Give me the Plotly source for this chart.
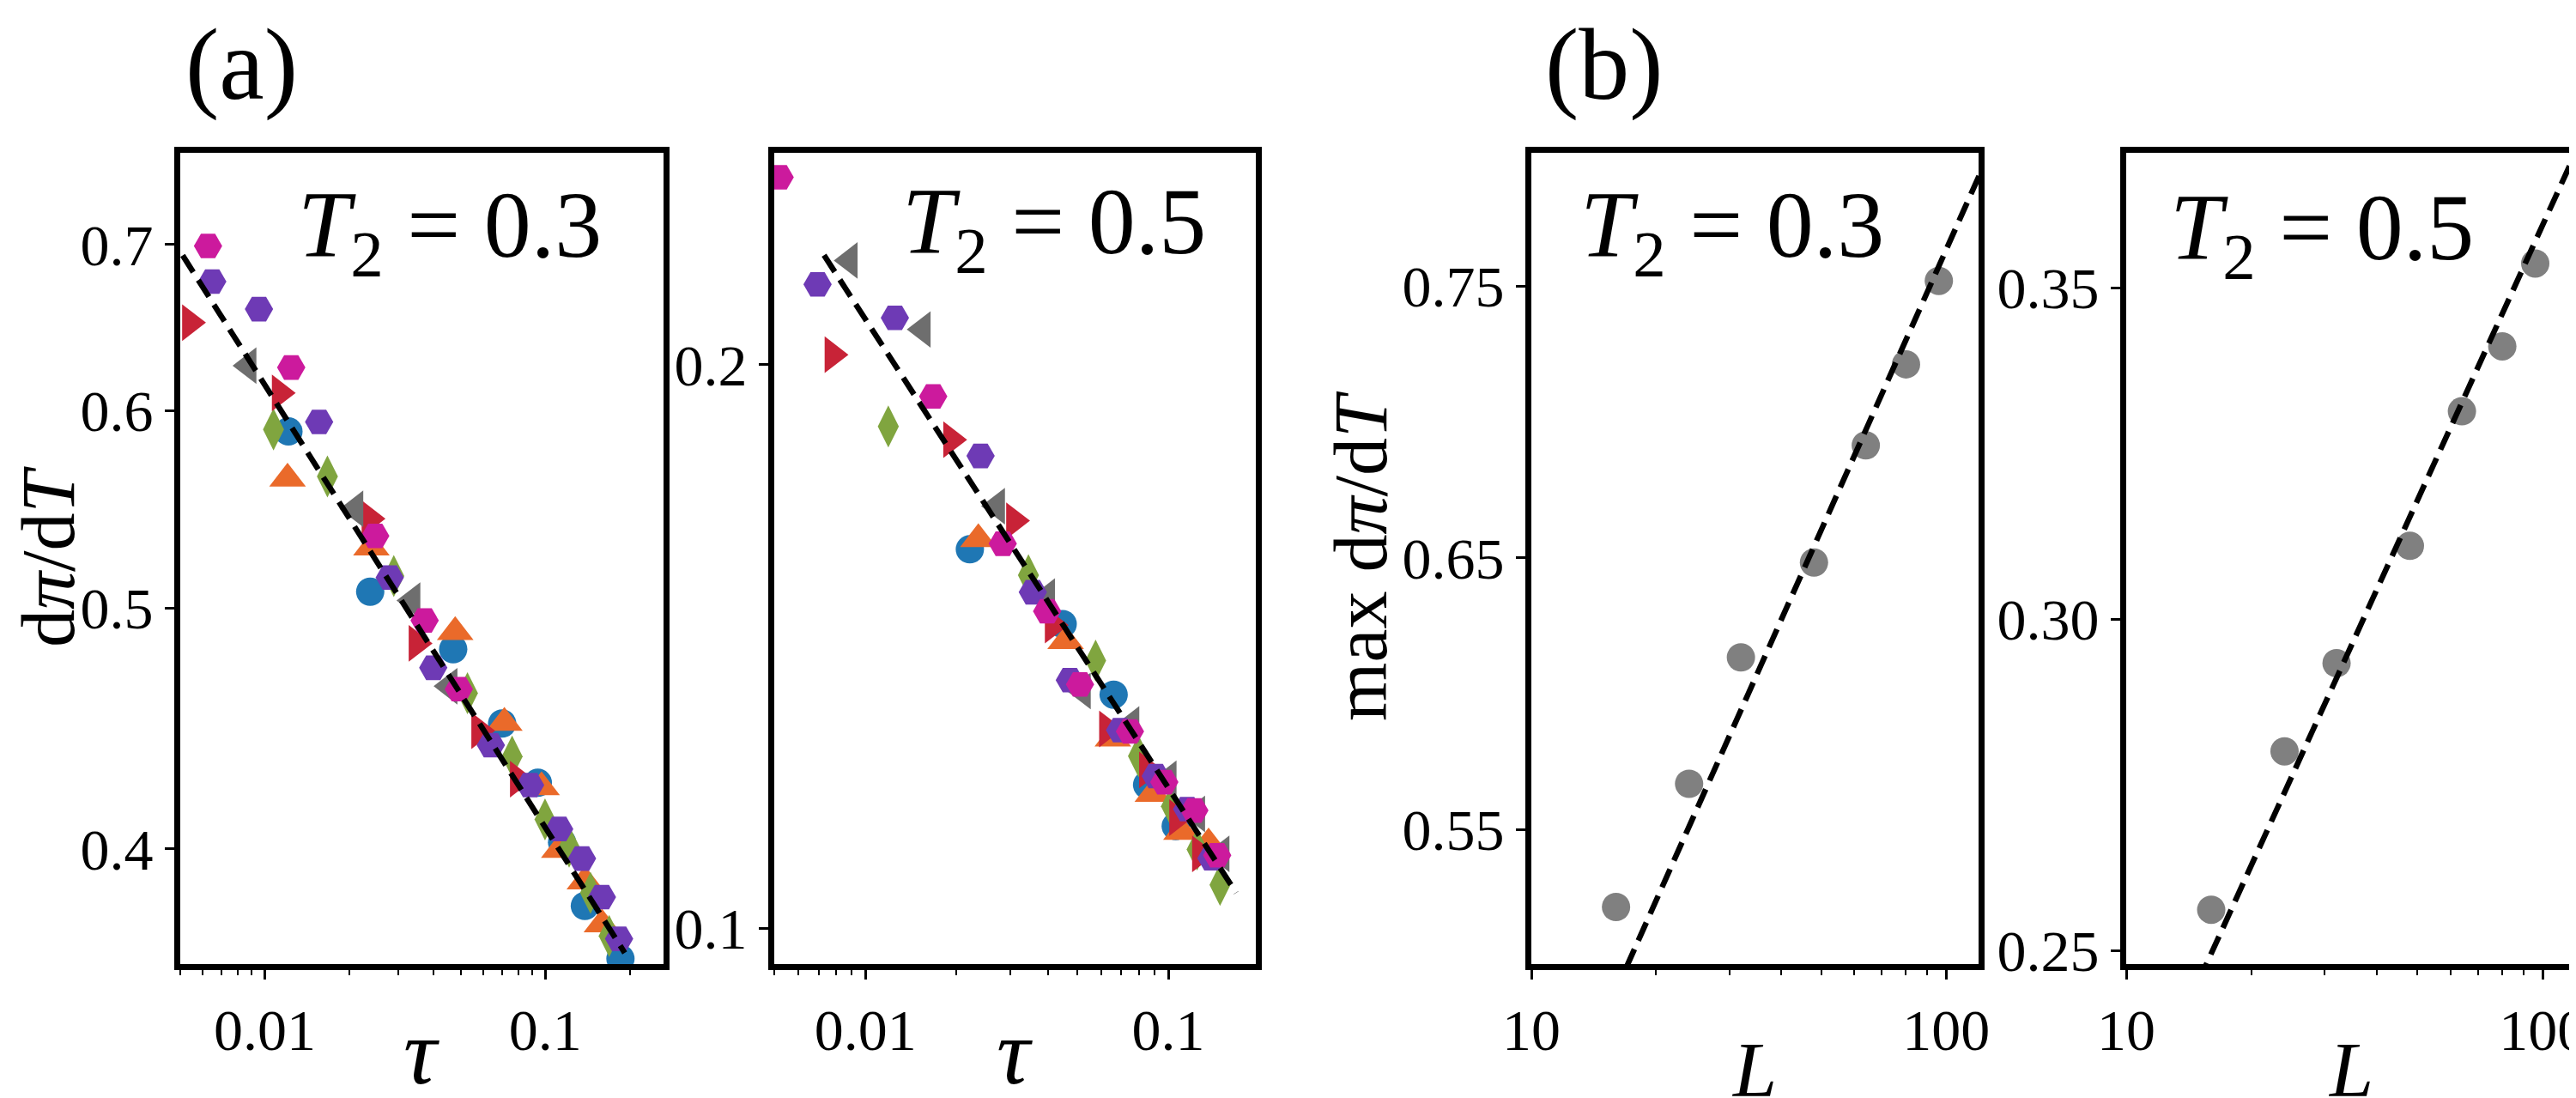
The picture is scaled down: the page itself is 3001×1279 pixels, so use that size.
import numpy as np
import plotly.graph_objects as go

W, H = 3001, 1279
FONT = "Liberation Serif"

# ---------------- data: panel (a), T2 = 0.3 ----------------
a3_circle_tau = [0.01215, 0.02377, 0.04697, 0.0702, 0.0941, 0.1148, 0.1384, 0.1854]
a3_circle_val = [0.5887, 0.5075, 0.4812, 0.4492, 0.4252, 0.4024, 0.3794, 0.3613]
a3_triup_tau = [0.01206, 0.0240, 0.04775, 0.0715, 0.0970, 0.1122, 0.1384, 0.1592]
a3_triup_val = [0.5635, 0.5287, 0.4889, 0.4495, 0.4235, 0.3996, 0.3881, 0.373]
a3_diam_tau = [0.01075, 0.01673, 0.02884, 0.0528, 0.0762, 0.0998, 0.1216, 0.145, 0.169]
a3_diam_val = [0.5898, 0.5647, 0.5149, 0.4620, 0.4357, 0.411, 0.4008, 0.384, 0.369]
a3_triright_tau = [0.00542, 0.01132, 0.02365, 0.0348, 0.0582, 0.0799]
a3_triright_val = [0.6511, 0.6101, 0.543, 0.4838, 0.4462, 0.4266]
a3_trileft_tau = [0.00875, 0.02104, 0.0336, 0.04556]
a3_trileft_val = [0.6257, 0.548, 0.5034, 0.465]
a3_hexp_tau = [0.0065, 0.00954, 0.01563, 0.0279, 0.03988, 0.064, 0.0883, 0.1121, 0.1352, 0.1592, 0.1833]
a3_hexp_val = [0.6763, 0.6593, 0.5939, 0.5142, 0.473, 0.4403, 0.4243, 0.4074, 0.3964, 0.3825, 0.368]
a3_hexm_tau = [0.00628, 0.01243, 0.02477, 0.03716, 0.0492]
a3_hexm_val = [0.699, 0.6246, 0.5344, 0.4942, 0.4637]
a3_fit_amp, a3_fit_exp = 0.2708, -0.178
a3_fit_tau = [0.0051, 0.192]

# ---------------- data: panel (a), T2 = 0.5 ----------------
a5_circle_tau = [0.02212, 0.0448, 0.066, 0.0851, 0.1058]
a5_circle_val = [0.1594, 0.1454, 0.1333, 0.1193, 0.1134]
a5_triup_tau = [0.0236, 0.0458, 0.0656, 0.0889, 0.1105, 0.1358]
a5_triup_val = [0.1614, 0.1424, 0.1263, 0.118, 0.1126, 0.111]
a5_diam_tau = [0.0119, 0.03453, 0.05755, 0.0797, 0.1024, 0.1245, 0.1482]
a5_diam_val = [0.1854, 0.1544, 0.139, 0.1236, 0.1162, 0.1102, 0.1055]
a5_triright_tau = [0.00779, 0.0192, 0.03097, 0.04155, 0.0628, 0.0851, 0.107, 0.1273]
a5_triright_val = [0.2025, 0.1824, 0.1651, 0.1452, 0.1278, 0.1215, 0.1146, 0.1096]
a5_trileft_tau = [0.00887, 0.01545, 0.02719, 0.03979, 0.0522, 0.0755, 0.1002, 0.1245, 0.1498]
a5_trileft_val = [0.2274, 0.2089, 0.1681, 0.1504, 0.1339, 0.1285, 0.1202, 0.1151, 0.1096]
a5_hexp_tau = [0.00695, 0.01251, 0.024, 0.0357, 0.0473, 0.0693, 0.0909, 0.1154, 0.1388]
a5_hexp_val = [0.2208, 0.2119, 0.1788, 0.1512, 0.1357, 0.1276, 0.1206, 0.1158, 0.109]
a5_hexm_tau = [0.00521, 0.01674, 0.0284, 0.0398, 0.0511, 0.0747, 0.097, 0.1219, 0.145]
a5_hexm_val = [0.2519, 0.1924, 0.1605, 0.1477, 0.135, 0.1274, 0.1197, 0.1156, 0.1094]
a5_fit_amp, a5_fit_exp = 0.0668, -0.2503
a5_fit_tau = [0.0073, 0.1675]

# ---------------- data: panel (b) ----------------
b_L = [16, 24, 32, 48, 64, 80, 96]
b3_max = [0.5216, 0.5669, 0.6134, 0.6483, 0.6914, 0.7212, 0.7519]
b5_max = [0.2562, 0.2801, 0.2934, 0.3111, 0.3314, 0.3412, 0.3537]
b3_fit_a, b3_fit_b = 0.0786, 0.3424
b5_fit_a, b5_fit_b = 0.0833, 0.1381
b_fit_L = [10, 130]

# ---------------- styles ----------------
styles = {
    "circle": ("#1f77b4", "circle"),
    "triup": ("#ea6a2a", "triangle-up"),
    "diam": ("#80a53f", "diamond-tall"),
    "triright": ("#c82337", "triangle-right"),
    "trileft": ("#6e6e6e", "triangle-left"),
    "hexp": ("#6e3ab5", "hexagon2"),
    "hexm": ("#cc1a9d", "hexagon2"),
}
msize = {"circle": 33, "triup": 37, "diam": 35, "triright": 37, "trileft": 37, "hexp": 33, "hexm": 33}
order = ["circle", "triup", "diam", "triright", "trileft", "hexp", "hexm"]

a3 = {"circle": (a3_circle_tau, a3_circle_val), "triup": (a3_triup_tau, a3_triup_val),
      "diam": (a3_diam_tau, a3_diam_val), "triright": (a3_triright_tau, a3_triright_val),
      "trileft": (a3_trileft_tau, a3_trileft_val), "hexp": (a3_hexp_tau, a3_hexp_val),
      "hexm": (a3_hexm_tau, a3_hexm_val)}
a5 = {"circle": (a5_circle_tau, a5_circle_val), "triup": (a5_triup_tau, a5_triup_val),
      "diam": (a5_diam_tau, a5_diam_val), "triright": (a5_triright_tau, a5_triright_val),
      "trileft": (a5_trileft_tau, a5_trileft_val), "hexp": (a5_hexp_tau, a5_hexp_val),
      "hexm": (a5_hexm_tau, a5_hexm_val)}

fig = go.Figure()
DASH = dict(color="black", width=6.5, dash="23px,11px")

for data, xa, ya, amp, ex, ft in [(a3, "x", "y", a3_fit_amp, a3_fit_exp, a3_fit_tau),
                                  (a5, "x2", "y2", a5_fit_amp, a5_fit_exp, a5_fit_tau)]:
    for k in order:
        t, v = data[k]
        c, s = styles[k]
        fig.add_trace(go.Scatter(x=t, y=v, mode="markers", xaxis=xa, yaxis=ya,
                                 marker=dict(color=c, symbol=s, size=msize[k], line=dict(width=0)),
                                 showlegend=False))
    tt = np.logspace(np.log10(ft[0]), np.log10(ft[1]), 50)
    fig.add_trace(go.Scatter(x=tt, y=amp * tt ** ex, mode="lines", xaxis=xa, yaxis=ya,
                             line=DASH, showlegend=False))

for vals, xa, ya, fa, fb in [(b3_max, "x3", "y3", b3_fit_a, b3_fit_b),
                             (b5_max, "x4", "y4", b5_fit_a, b5_fit_b)]:
    fig.add_trace(go.Scatter(x=b_L, y=vals, mode="markers", xaxis=xa, yaxis=ya,
                             marker=dict(color="#808080", size=33, line=dict(width=0)),
                             showlegend=False))
    LL = np.logspace(np.log10(b_fit_L[0]), np.log10(b_fit_L[1]), 50)
    fig.add_trace(go.Scatter(x=LL, y=fa + fb * np.log10(LL), mode="lines", xaxis=xa, yaxis=ya,
                             line=DASH, showlegend=False))

TICKFONT = dict(family=FONT, size=68, color="black")


def axis(domain, rng, typ, tickvals, ticktext, minor_vals=None, anchor=None):
    d = dict(domain=domain, range=rng, type=typ, tickmode="array", tickvals=tickvals,
             ticktext=ticktext, ticks="outside", ticklen=11, tickwidth=2.5, tickcolor="black",
             showline=True, linewidth=7, linecolor="black", mirror=True, showgrid=False,
             zeroline=False, tickfont=TICKFONT, anchor=anchor, automargin=False,
             ticklabeloverflow="allow")
    if minor_vals is not None:
        d["minor"] = dict(tickmode="array", tickvals=minor_vals, ticks="outside", ticklen=6,
                          tickwidth=2, tickcolor="black", showgrid=False)
    return d


def px(x):
    return x / W


ydom = [1 - 1115 / H, 1 - 170 / H]
minor_tau = [0.005, 0.006, 0.007, 0.008, 0.009, 0.02, 0.03, 0.04, 0.05, 0.06, 0.07, 0.08, 0.09, 0.2]
minor_L = [20, 30, 40, 50, 60, 70, 80, 90]

fig.update_layout(
    width=W, height=H, margin=dict(l=0, r=0, t=0, b=0, autoexpand=False),
    paper_bgcolor="white", plot_bgcolor="white",
    xaxis=axis([px(202), px(765)], [np.log10(0.005), np.log10(0.264)], "log",
               [0.01, 0.1], ["0.01", "0.1"], minor_tau, "y"),
    yaxis=axis(ydom, [np.log10(0.3595), np.log10(0.762)], "log",
               [0.4, 0.5, 0.6, 0.7], ["0.4", "0.5", "0.6", "0.7"], None, "x"),
    xaxis2=axis([px(894), px(1455)], [np.log10(0.005), np.log10(0.1945)], "log",
                [0.01, 0.1], ["0.01", "0.1"], minor_tau, "y2"),
    yaxis2=axis(ydom, [np.log10(0.0957), np.log10(0.2596)], "log",
                [0.1, 0.2], ["0.1", "0.2"], None, "x2"),
    xaxis3=axis([px(1776), px(2297)], [1.0, 2.078], "log",
                [10, 100], ["10", "100"], minor_L, "y3"),
    yaxis3=axis(ydom, [0.5006, 0.799], "linear",
                [0.55, 0.65, 0.75], ["0.55", "0.65", "0.75"], None, "x3"),
    xaxis4=axis([px(2469), px(2991)], [1.0, 2.076], "log",
                [10, 100], ["10", "100"], minor_L, "y4"),
    yaxis4=axis(ydom, [0.248, 0.3704], "linear",
                [0.25, 0.30, 0.35], ["0.25", "0.30", "0.35"], None, "x4"),
)


def ann(text, x, y, size, angle=0, yanchor="middle", yshift=0):
    return dict(text=text, x=px(x), y=1 - y / H, xref="paper", yref="paper",
                xanchor="center", yanchor=yanchor, showarrow=False, textangle=angle,
                yshift=yshift, font=dict(family=FONT, size=size, color="black"))


anns = [
    ann("(a)", 273, 0, 118, yanchor="top"),
    ann("(b)", 1861, 0, 118, yanchor="top"),
    ann("<i>T</i><sub>2</sub> = 0.3", 516, 262, 110),
    ann("<i>T</i><sub>2</sub> = 0.5", 1220, 258, 110),
    ann("<i>T</i><sub>2</sub> = 0.3", 2010, 262, 110),
    ann("<i>T</i><sub>2</sub> = 0.5", 2697, 265, 110),
    ann("d<i>π</i>/d<i>T</i>", 48, 640, 88, -90),
    ann("max d<i>π</i>/d<i>T</i>", 1577, 640, 88, -90),
    ann("<i>τ</i>", 483, 1279, 108, yanchor="bottom", yshift=0),
    ann("<i>τ</i>", 1174, 1279, 108, yanchor="bottom", yshift=0),
    ann("<i>L</i>", 2036, 1279, 92, yanchor="bottom", yshift=-12),
    ann("<i>L</i>", 2730, 1279, 92, yanchor="bottom", yshift=-12),
]
fig.update_layout(annotations=anns)

fig.write_html("out.html")
